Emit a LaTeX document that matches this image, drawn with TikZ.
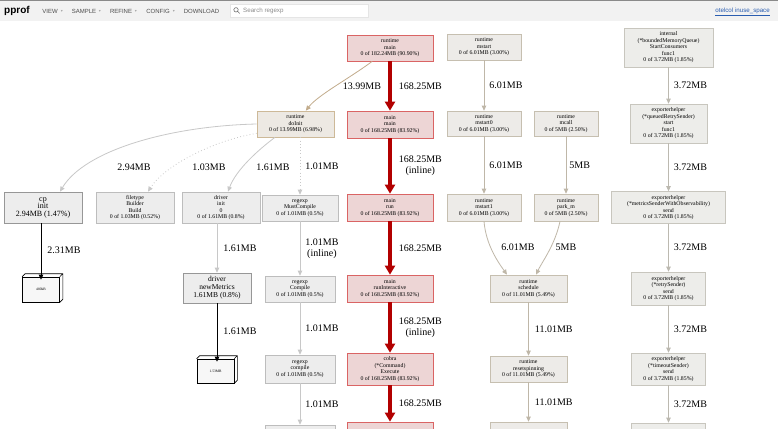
\documentclass[tikz,border=0pt]{standalone}
\usepackage{fontspec}
\setmainfont{Liberation Serif}
\setsansfont{Liberation Sans}
\newfontfamily\symfont{DejaVu Sans}
\usetikzlibrary{arrows.meta}
\definecolor{hotline}{HTML}{B20000}
\definecolor{hotfill}{HTML}{EDD5D5}
\definecolor{hotdraw}{HTML}{DA6464}
\definecolor{coolfill}{HTML}{EDEDED}
\definecolor{cooldraw}{HTML}{BDBDBD}
\definecolor{cooledge}{HTML}{C8C8C8}
\definecolor{tanfill}{HTML}{EDE9E3}
\definecolor{tandraw}{HTML}{CDB998}
\definecolor{tanedge}{HTML}{C2AC8C}
\definecolor{sysfill}{HTML}{EDEBE8}
\definecolor{sysdraw}{HTML}{C6BFB0}
\definecolor{sysedge}{HTML}{BFB7A8}
\definecolor{expfill}{HTML}{EDEDEA}
\definecolor{expdraw}{HTML}{C8C6BE}
\definecolor{expedge}{HTML}{BCB9B0}
\definecolor{barbg}{HTML}{F2F2F2}
\definecolor{barline}{HTML}{8A8A8A}
\definecolor{linkblue}{HTML}{2A5DB0}

\tikzset{
  fn/.style={draw=cooldraw, fill=coolfill, rectangle, align=center, inner sep=1pt,
    line width=0.7pt, font=\fontsize{5.8}{6.5}\selectfont},
  hotfn/.style={fn, draw=hotdraw, fill=hotfill},
  tanfn/.style={fn, draw=tandraw, fill=tanfill},
  sysfn/.style={fn, draw=sysdraw, fill=sysfill},
  expfn/.style={fn, draw=expdraw, fill=expfill},
  flatfn/.style={fn, draw=cooldraw!80!black, font=\fontsize{8}{7.5}\selectfont},
  leafbox/.style={draw=black, fill=black!3, line width=0.6pt, inner sep=0pt,
    font=\fontsize{3.6}{4}\selectfont},
  lbl/.style={inner sep=0pt, align=center, font=\fontsize{10}{11}\selectfont},
  hot/.style={draw=hotline, line width=3.6pt, -{Triangle[length=9pt,width=10pt]}},
  cool/.style={draw=cooledge, line width=0.8pt, -{Triangle[length=5pt,width=4.5pt]}},
  faint/.style={cool, dash pattern=on 0.8pt off 2.4pt},
  tan/.style={cool, draw=tanedge},
  sys/.style={cool, draw=sysedge},
  exp/.style={cool, draw=expedge},
  leaf/.style={draw=black, line width=0.8pt, shorten >=-3pt, -{Triangle[length=5pt,width=4.5pt]}},
  menu/.style={inner sep=0pt, text=black!70, font=\sffamily\fontsize{6}{6}\selectfont},
  caret/.style={inner sep=0pt, text=black!35, font=\symfont\fontsize{4}{4}\selectfont},
}

\begin{document}
\begin{tikzpicture}[x=1pt, y=-1pt]
    \useasboundingbox (0,0) rectangle (778,428);
    \clip (0,0) rectangle (778,428);
    \fill[white] (0,0) rectangle (778,428);

    % Toolbar
    \fill[barbg] (0,0) rectangle (778,21);
    \fill[barline] (0,0) rectangle (778,1.5);
    \node[anchor=west, inner sep=0pt, font=\sffamily\bfseries\fontsize{10}{10}\selectfont] (brand) at (4,11) {pprof};
    \node[menu] (mview) at (50,11) {VIEW};
    \node[caret] (cview) at (62,11) {▾};
    \node[menu] (msample) at (84,11) {SAMPLE};
    \node[caret] (csample) at (100,11) {▾};
    \node[menu] (mrefine) at (121,11) {REFINE};
    \node[caret] (crefine) at (136,11) {▾};
    \node[menu] (mconfig) at (158,11) {CONFIG};
    \node[caret] (cconfig) at (174,11) {▾};
    \node[menu] (mdownload) at (201.5,11) {DOWNLOAD};
    \node[draw=black!10, fill=white, minimum width=138, minimum height=13, inner sep=0pt] (search) at (299,10.5) {};
    \draw[black!55, line width=0.6pt] (236,9.8) circle (2.2) (237.6,11.4) -- (239.6,13.4);
    \node[anchor=west, inner sep=0pt, text=black!45, font=\sffamily\fontsize{6.2}{6.2}\selectfont] (searchtxt) at (243,10.8) {Search regexp};
    \node[anchor=east, inner sep=0pt, text=linkblue, font=\sffamily\fontsize{6.2}{6.2}\selectfont] (link) at (770,11.5) {\underline{otelcol inuse\_space}};

    % Hot path
    \node[hotfn, minimum width=86, minimum height=26] (rmain) at (390,48) {runtime\\main\\0 of 182.24MB (90.90\%)};
    \node[hotfn, minimum width=86, minimum height=27] (mmain) at (390,124.5) {main\\main\\0 of 168.25MB (83.92\%)};
    \node[hotfn, minimum width=86, minimum height=27] (mrun) at (390,207.5) {main\\run\\0 of 168.25MB (83.92\%)};
    \node[hotfn, minimum width=86, minimum height=27] (mri) at (390,288.5) {main\\runInteractive\\0 of 168.25MB (83.92\%)};
    \node[hotfn, minimum width=86, minimum height=32] (cexec) at (390,369) {cobra\\(*Command)\\Execute\\0 of 168.25MB (83.92\%)};
    \node[hotfn, minimum width=86, minimum height=46] (redmore) at (390,445) {};

    % Runtime scheduler
    \node[sysfn, minimum width=74, minimum height=26] (mstart) at (484,47) {runtime\\mstart\\0 of 6.01MB (3.00\%)};
    \node[sysfn, minimum width=74, minimum height=25] (mstart0) at (484,123.5) {runtime\\mstart0\\0 of 6.01MB (3.00\%)};
    \node[sysfn, minimum width=64, minimum height=25] (mcall) at (566,123.5) {runtime\\mcall\\0 of 5MB (2.50\%)};
    \node[sysfn, minimum width=74, minimum height=27] (mstart1) at (484,207.5) {runtime\\mstart1\\0 of 6.01MB (3.00\%)};
    \node[sysfn, minimum width=64, minimum height=27] (parkm) at (566,207.5) {runtime\\park\_m\\0 of 5MB (2.50\%)};
    \node[sysfn, minimum width=77, minimum height=27] (sched) at (528.5,288.5) {runtime\\schedule\\0 of 11.01MB (5.49\%)};
    \node[sysfn, minimum width=77, minimum height=26] (resetspin) at (528.5,369) {runtime\\resetspinning\\0 of 11.01MB (5.49\%)};
    \node[sysfn, minimum width=77, minimum height=46] (sysmore) at (528.5,445) {};

    % Exporter chain
    \node[expfn, minimum width=89, minimum height=39] (bmq) at (668.5,47.5) {internal\\(*boundedMemoryQueue)\\StartConsumers\\func1\\0 of 3.72MB (1.85\%)};
    \node[expfn, minimum width=77, minimum height=39] (qrs) at (668.5,123.5) {exporterhelper\\(*queuedRetrySender)\\start\\func1\\0 of 3.72MB (1.85\%)};
    \node[expfn, minimum width=114, minimum height=32] (mswo) at (668.5,207.5) {exporterhelper\\(*metricsSenderWithObservability)\\send\\0 of 3.72MB (1.85\%)};
    \node[expfn, minimum width=74, minimum height=33] (rs) at (668.5,288.5) {exporterhelper\\(*retrySender)\\send\\0 of 3.72MB (1.85\%)};
    \node[expfn, minimum width=74, minimum height=32] (ts) at (668.5,369) {exporterhelper\\(*timeoutSender)\\send\\0 of 3.72MB (1.85\%)};
    \node[expfn, minimum width=74, minimum height=46] (expmore) at (668.5,446) {};

    % Package init
    \node[tanfn, minimum width=77, minimum height=26] (doinit) at (295.5,124) {runtime\\doInit\\0 of 13.99MB (6.98\%)};
    \node[flatfn, minimum width=78, minimum height=31] (cpinit) at (43,207.5) {cp\\init\\2.94MB (1.47\%)};
    \node[fn, minimum width=78, minimum height=31] (ftb) at (135,207.5) {filetype\\Builder\\Build\\0 of 1.03MB (0.52\%)};
    \node[fn, minimum width=78, minimum height=31] (dinit) at (221,207.5) {driver\\init\\0\\0 of 1.61MB (0.8\%)};
    \node[fn, minimum width=76, minimum height=26] (mustc) at (300,208) {regexp\\MustCompile\\0 of 1.01MB (0.5\%)};
    \node[flatfn, minimum width=68, minimum height=30, font=\fontsize{7.5}{8}\selectfont] (newm) at (217,288) {driver\\newMetrics\\1.61MB (0.8\%)};
    \node[fn, minimum width=70, minimum height=26] (rcomp) at (300,289) {regexp\\Compile\\0 of 1.01MB (0.5\%)};
    \node[fn, minimum width=70, minimum height=28] (rcompile) at (300,369) {regexp\\compile\\0 of 1.01MB (0.5\%)};
    \node[fn, minimum width=70, minimum height=46] (remore) at (300,448) {};
    \node[leafbox, minimum width=37, minimum height=25] (kb480) at (41,289.5) {480kB};
    \node[leafbox, minimum width=37, minimum height=24] (mb153) at (215.5,371) {1.53MB};
    \draw[black, line width=0.6pt] (kb480.north west) -- ++(3,-3) -| ([shift={(3,-3)}]kb480.south east) -- (kb480.south east)
        (kb480.north east) -- ++(3,-3);
    \draw[black, line width=0.6pt] (mb153.north west) -- ++(3,-3) -| ([shift={(3,-3)}]mb153.south east) -- (mb153.south east)
        (mb153.north east) -- ++(3,-3);

    % Hot connections
    \draw[hot] (rmain) -- node[lbl, right=7pt] {168.25MB} (mmain);
    \draw[hot] (mmain) -- node[lbl, right=7pt] {168.25MB\\(inline)} (mrun);
    \draw[hot] (mrun) -- node[lbl, right=7pt] {168.25MB} (mri);
    \draw[hot] (mri) -- node[lbl, right=7pt] {168.25MB\\(inline)} (cexec);
    \draw[hot] (cexec) -- node[lbl, right=7pt] {168.25MB} (redmore);

    % Scheduler connections
    \draw[sys] (mstart) -- node[lbl, right=5pt] {6.01MB} (mstart0);
    \draw[sys] (mstart0) -- node[lbl, right=5pt] {6.01MB} (mstart1);
    \draw[sys] (mcall) -- node[lbl, right=3pt] {5MB} (parkm);
    \draw[sys] (mstart1.south) .. controls (486,245) and (498,262) .. ([xshift=-21.5pt]sched.north)
        node[lbl] (l601) at (518,247) {6.01MB};
    \draw[sys] ([xshift=-6pt]parkm.south) .. controls (555,245) and (542,262) .. ([xshift=7.5pt]sched.north)
        node[lbl] (l5) at (566,247) {5MB};
    \draw[sys] (sched) -- node[lbl, right=6pt] {11.01MB} (resetspin);
    \draw[sys] (resetspin) -- node[lbl, right=6pt] {11.01MB} (sysmore);

    % Exporter connections
    \draw[exp] (bmq) -- node[lbl, right=5pt] {3.72MB} (qrs);
    \draw[exp] (qrs) -- node[lbl, right=5pt] {3.72MB} (mswo);
    \draw[exp] (mswo) -- node[lbl, right=5pt] {3.72MB} (rs);
    \draw[exp] (rs) -- node[lbl, right=5pt] {3.72MB} (ts);
    \draw[exp] (ts) -- node[lbl, right=5pt] {3.72MB} (expmore);

    % Init connections
    \draw[tan] (rmain) .. controls (350,78) and (318,95) .. (doinit)
        node[lbl] (l1399) at (362,86) {13.99MB};
    \draw[cool] (doinit.west) .. controls (170,126) and (85,150) .. ([xshift=17pt]cpinit.north)
        node[lbl] (l294) at (134,167) {2.94MB};
    \draw[faint] ([yshift=4pt]doinit.south west) .. controls (215,140) and (165,165) .. ([xshift=13pt]ftb.north)
        node[lbl] (l103) at (209,167) {1.03MB};
    \draw[cool] ([xshift=-20.5pt]doinit.south) .. controls (258,150) and (236,170) .. ([xshift=7pt]dinit.north)
        node[lbl] (l161) at (273,167) {1.61MB};
    \draw[faint] (mustc.north |- doinit.south) -- node[lbl, right=5pt] {1.01MB} (mustc);
    \draw[leaf] (cpinit.south -| kb480) -- node[lbl, right=6pt] {2.31MB} (kb480);
    \draw[cool] (dinit.south -| newm) -- node[lbl, right=6pt] {1.61MB} (newm);
    \draw[leaf] (newm) -- node[lbl, right=6pt] {1.61MB} (newm |- mb153.north);
    \draw[cool] (mustc) -- node[lbl, right=5pt] {1.01MB\\(inline)} (rcomp);
    \draw[cool] (rcomp) -- node[lbl, right=5pt] {1.01MB} (rcompile);
    \draw[cool] (rcompile) -- node[lbl, right=5pt] {1.01MB} (remore);
\end{tikzpicture}
\end{document}
